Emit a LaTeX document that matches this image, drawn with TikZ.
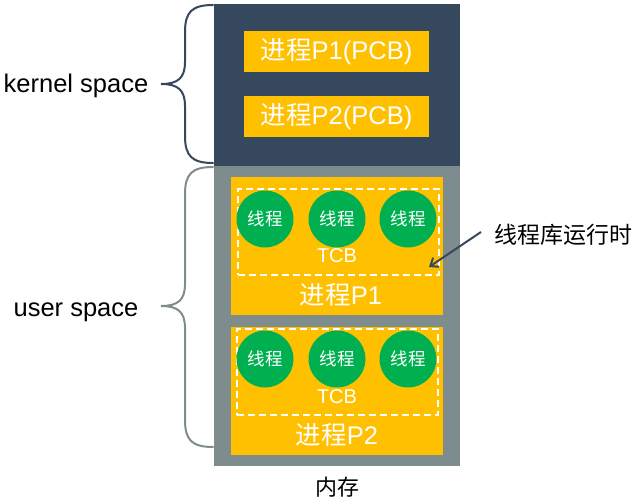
\documentclass[tikz,border=0pt]{standalone}
\usepackage{fontspec}
\setmainfont{Liberation Sans}
\newfontfamily\cjk{Noto Sans CJK SC}
\usetikzlibrary{arrows.meta}
\definecolor{kdark}{HTML}{35485E}
\definecolor{ugrey}{HTML}{7F8C8D}
\definecolor{porange}{HTML}{FFC000}
\definecolor{tgreen}{HTML}{00B050}
\tikzset{
  region/.style={inner sep=0pt, outer sep=0pt},
  pcbbox/.style={fill=porange, inner sep=0pt, minimum width=185pt, minimum height=41pt, text=white, font=\fontsize{25.5}{28}\selectfont},
  procbox/.style={fill=porange, inner sep=0pt, minimum width=212pt, text=white},
  tcbbox/.style={draw=white, line width=2pt, dash pattern=on 7pt off 4pt, inner sep=0pt, minimum width=201pt},
  thread/.style={circle, fill=tgreen, inner sep=0pt, minimum size=57pt, text=white, font=\fontsize{17.5}{20}\selectfont\cjk},
  lbl/.style={inner sep=0pt, text=white},
  side/.style={inner sep=0pt, text=black, anchor=base, font=\fontsize{25.5}{28}\selectfont},
  bracel/.style={line width=2pt, line cap=round},
}
\begin{document}
\begin{tikzpicture}[x=1pt,y=-1pt]
\useasboundingbox (0,0) rectangle (637,500);
% regions
\node[region, fill=kdark, minimum width=246pt, minimum height=162pt] (kernel) at (337,85) {};
\node[region, fill=ugrey, minimum width=246pt, minimum height=300pt] (user) at (337,316) {};
% PCB boxes
\node[pcbbox] (pcb1) at (336.5,51.5) {{\cjk 进程}P1(PCB)};
\node[pcbbox] (pcb2) at (336.5,116.5) {{\cjk 进程}P2(PCB)};
% process 1
\node[procbox, minimum height=138pt] (p1) at (337,246) {};
\node[tcbbox, minimum height=86pt] (tcb1) at (338,232) {};
\node[thread] (t11) at (265,219) {线程};
\node[thread] (t12) at (337,219) {线程};
\node[thread] (t13) at (408,219) {线程};
\node[lbl, font=\fontsize{20}{23}\selectfont] (tcbl1) at (337,256) {TCB};
\node[lbl, font=\fontsize{25.5}{28}\selectfont] (p1l) at (341,295) {{\cjk 进程}P1};
% process 2
\node[procbox, minimum height=128pt] (p2) at (336.5,391) {};
\node[tcbbox, minimum height=86pt] (tcb2) at (337,372) {};
\node[thread] (t21) at (265,359) {线程};
\node[thread] (t22) at (337,359) {线程};
\node[thread] (t23) at (408,359) {线程};
\node[lbl, font=\fontsize{20}{23}\selectfont] (tcbl2) at (337,397) {TCB};
\node[lbl, font=\fontsize{25.5}{28}\selectfont] (p2l) at (337,435) {{\cjk 进程}P2};
% memory label
\node[inner sep=0pt, font=\fontsize{22}{25}\selectfont\cjk] (mem) at (337,487) {内存};
% side labels
\node[side] (ks) at (76,93) {kernel space};
\node[side] (us) at (76,316) {user space};
% braces
\draw[bracel, kdark] (213,5) .. controls (192,5) and (185,12) .. (185,32) -- (185,62)
  .. controls (185,78) and (178,84) .. (161,84)
  .. controls (178,84) and (185,90) .. (185,106) -- (185,136)
  .. controls (185,156) and (192,163) .. (213,163);
\draw[bracel, ugrey] (213,167) .. controls (192,167) and (185,174) .. (185,194) -- (185,284)
  .. controls (185,300) and (178,306) .. (161,306)
  .. controls (178,306) and (185,312) .. (185,328) -- (185,420)
  .. controls (185,440) and (192,447) .. (213,447);
% runtime label and arrow
\node[inner sep=0pt, font=\fontsize{23}{26}\selectfont\cjk] (rt) at (563,235) {线程库运行时};
\coordinate (as) at (481,232);
\coordinate (ae) at (429,267);
\draw[kdark, line width=2pt, -{Straight Barb[length=7pt,width=11pt]}] (as) -- (ae);
\end{tikzpicture}
\end{document}
